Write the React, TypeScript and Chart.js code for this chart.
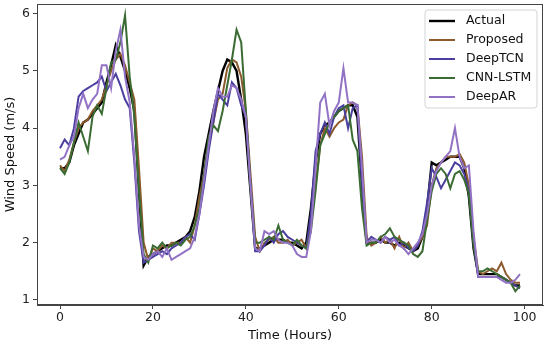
import React, { useEffect, useRef } from "react";
import { Chart, registerables } from "chart.js";

Chart.register(...registerables);

const hours: number[] = Array.from({ length: 100 }, (_, i) => i);

const actual = [
  3.3, 3.3, 3.4, 3.7, 3.9, 4.1, 4.15, 4.25, 4.35, 4.45,
  4.8, 5.1, 5.45, 5.25, 5.0, 4.7, 4.3, 2.9, 1.6, 1.75,
  1.8, 1.85, 1.9, 1.95, 1.95, 2.0, 2.05, 2.1, 2.2, 2.45,
  2.9, 3.5, 3.9, 4.3, 4.65, 5.0, 5.2, 5.15, 5.0, 4.5,
  3.9, 2.9, 1.9, 1.9, 1.95, 2.0, 2.05, 2.05, 2.05, 2.0,
  2.0, 1.95, 1.9, 2.0, 2.6, 3.4, 3.9, 4.05, 4.1, 4.2,
  4.3, 4.35, 4.4, 4.4, 4.2, 3.0, 2.0, 2.0, 2.0, 2.05,
  2.0, 2.0, 1.95, 2.0, 1.95, 1.9, 1.85, 1.9, 2.1, 2.6,
  3.4, 3.35, 3.4, 3.45, 3.5, 3.5, 3.5, 3.3, 2.8, 1.9,
  1.45, 1.45, 1.45, 1.45, 1.45, 1.4, 1.35, 1.3, 1.25, 1.25,
];

const proposed = [
  3.35, 3.25, 3.45, 3.75, 4.0, 4.1, 4.15, 4.3, 4.4, 4.5,
  4.75, 5.0, 5.2, 5.3, 5.1, 4.8, 4.5, 3.3, 2.0, 1.7,
  1.9, 1.85, 1.95, 1.9, 2.0, 2.0, 2.0, 2.1, 2.0, 2.3,
  2.8, 3.2, 3.7, 4.1, 4.5, 4.6, 5.05, 5.2, 5.15, 4.9,
  4.3, 3.2, 2.1, 1.85, 2.0, 2.05, 2.1, 2.0, 2.0, 2.05,
  1.95, 2.0, 2.05, 1.9, 2.3, 3.0, 3.7, 4.0, 3.85, 4.0,
  4.1, 4.15, 4.4, 4.45, 4.4, 3.5, 2.1, 1.95, 2.0, 2.1,
  2.0, 2.05, 1.9, 2.1, 1.9, 2.0, 1.85, 1.95, 2.1, 2.3,
  3.0, 3.3, 3.4, 3.5, 3.5, 3.5, 3.55, 3.4, 3.0, 2.1,
  1.5, 1.45, 1.5, 1.55, 1.5, 1.65, 1.45, 1.35, 1.3, 1.3,
];

const deepTCN = [
  3.65, 3.8, 3.7, 4.0, 4.55, 4.65, 4.7, 4.75, 4.8, 4.9,
  4.65, 4.8, 4.95, 4.75, 4.5, 4.35, 3.4, 2.2, 1.65, 1.7,
  1.75, 1.8, 1.85, 1.8, 1.9, 1.95, 2.0, 2.1, 2.15, 2.05,
  2.5, 3.0, 3.6, 4.1, 4.6, 4.5, 4.4, 4.8, 4.7, 4.4,
  4.2, 3.0, 1.85, 1.85, 1.95, 2.1, 2.0, 2.15, 2.2, 2.1,
  2.05, 2.0, 1.95, 1.9, 2.5, 3.6, 3.9, 4.1, 3.9, 4.2,
  4.35, 4.4, 4.0, 4.35, 4.4, 3.0, 2.0, 2.1, 2.05, 2.0,
  2.1, 2.05, 2.1, 1.95, 2.0, 1.9, 1.85, 1.95, 2.2, 2.7,
  3.3, 3.15, 2.95, 3.1, 3.25, 3.4, 3.35, 3.2, 2.9, 2.0,
  1.4, 1.4, 1.4, 1.4, 1.4, 1.4, 1.35, 1.3, 1.25, 1.2,
];

const cnnLSTM = [
  3.3, 3.2, 3.4, 3.75, 4.1, 3.85, 3.6, 4.2, 4.4, 4.25,
  4.7, 5.15, 5.2, 5.5, 5.97, 4.9, 4.2, 2.9, 1.8, 1.65,
  1.95, 1.9, 2.0, 1.9, 1.95, 2.0, 1.95, 2.05, 2.1, 2.3,
  2.6, 3.2, 3.85, 4.05, 3.95, 4.3, 4.75, 5.2, 5.72, 5.5,
  4.3, 3.0, 2.0, 2.0, 2.05, 2.1, 2.05, 2.3, 2.05, 2.0,
  1.95, 2.05, 1.95, 1.9, 2.2, 2.9, 3.7, 3.9, 4.1, 4.2,
  4.3, 4.35, 4.4, 3.8, 3.6, 2.6, 1.95, 2.0, 2.0, 2.1,
  2.15, 2.25, 2.1, 2.05, 2.0, 1.95, 1.8, 1.75, 1.85, 2.4,
  2.9, 3.2, 3.3, 3.2, 2.95, 3.2, 3.25, 3.1, 2.85, 1.95,
  1.5, 1.5, 1.55, 1.5, 1.45, 1.4, 1.35, 1.3, 1.15, 1.25,
];

const deepAR = [
  3.45, 3.5, 3.7, 3.85, 4.35, 4.6, 4.35, 4.5, 4.6, 5.1,
  5.1, 4.7, 5.35, 5.72, 4.9, 4.45, 3.5, 2.3, 1.75, 1.7,
  1.8, 1.85, 1.75, 1.9, 1.7, 1.75, 1.8, 1.85, 1.9, 2.1,
  2.5, 3.1, 3.7, 4.3, 4.7, 4.55, 4.55, 4.75, 4.7, 4.5,
  4.2, 3.0, 1.9, 1.85, 2.2, 2.15, 2.2, 2.05, 2.0, 2.0,
  1.95, 1.8, 1.75, 1.75, 2.2, 3.3, 4.45, 4.6, 4.05, 4.3,
  4.45, 5.05, 4.45, 4.45, 4.4, 3.3, 2.0, 2.05, 2.05, 2.0,
  2.1, 2.0, 2.05, 1.95, 1.9, 1.8, 1.9, 2.0, 2.15, 2.5,
  3.0, 3.25, 3.4, 3.5, 3.6, 4.0, 3.5, 3.3, 3.35, 2.2,
  1.4, 1.4, 1.4, 1.4, 1.4, 1.35, 1.3, 1.3, 1.35, 1.45,
];

const seriesNames = ["Actual", "Proposed", "DeepTCN", "CNN-LSTM", "DeepAR"];
const seriesColors = ["#000000", "#8c5a2c", "#4a3f9f", "#3a6b32", "#9272c4"];
const seriesWidths = [2.4, 2, 2, 2, 2];
const xTicks = [0, 20, 40, 60, 80, 100];
const yTicks = [1, 2, 3, 4, 5, 6];

const FONT = "'DejaVu Sans', sans-serif";

const framePlugin = {
  id: "frame",
  afterDatasetsDraw(chart: any) {
    const { ctx, chartArea } = chart;
    ctx.save();
    ctx.strokeStyle = "#444";
    ctx.lineWidth = 1;
    ctx.strokeRect(chartArea.left + 0.5, chartArea.top + 0.5, chartArea.right - chartArea.left - 1, chartArea.bottom - chartArea.top - 1);
    ctx.restore();
  },
};

const legendPlugin = {
  id: "customLegend",
  afterDraw(chart: any) {
    const { ctx, chartArea } = chart;
    const w = 112;
    const h = 98;
    const x = chartArea.right - 6 - w;
    const y = chartArea.top + 6;
    ctx.save();
    ctx.fillStyle = "rgba(255,255,255,0.85)";
    ctx.strokeStyle = "#d4d4d4";
    ctx.lineWidth = 1;
    ctx.beginPath();
    const r = 3;
    ctx.moveTo(x + r, y);
    ctx.lineTo(x + w - r, y);
    ctx.arcTo(x + w, y, x + w, y + r, r);
    ctx.lineTo(x + w, y + h - r);
    ctx.arcTo(x + w, y + h, x + w - r, y + h, r);
    ctx.lineTo(x + r, y + h);
    ctx.arcTo(x, y + h, x, y + h - r, r);
    ctx.lineTo(x, y + r);
    ctx.arcTo(x, y, x + r, y, r);
    ctx.closePath();
    ctx.fill();
    ctx.stroke();
    ctx.font = `12.5px ${FONT}`;
    ctx.textBaseline = "middle";
    ctx.textAlign = "left";
    seriesNames.forEach((name, i) => {
      const cy = y + 11 + i * 19;
      ctx.strokeStyle = seriesColors[i];
      ctx.lineWidth = seriesWidths[i];
      ctx.beginPath();
      ctx.moveTo(x + 4, cy);
      ctx.lineTo(x + 30, cy);
      ctx.stroke();
      ctx.fillStyle = "#111";
      ctx.fillText(name, x + 41, cy);
    });
    ctx.restore();
  },
};

export default function App() {
  const ref = useRef<HTMLCanvasElement | null>(null);

  useEffect(() => {
    document.body.style.margin = "0";
    const series = [actual, proposed, deepTCN, cnnLSTM, deepAR];
    const datasets = series.map((vals, i) => ({
      label: seriesNames[i],
      data: vals.map((v, j) => ({ x: hours[j], y: v })),
      borderColor: seriesColors[i],
      backgroundColor: seriesColors[i],
      borderWidth: seriesWidths[i],
      pointRadius: 0,
      tension: 0,
      fill: false,
      order: series.length - i,
    }));
    const chart = new Chart(ref.current!, {
      type: "line",
      data: { datasets },
      plugins: [framePlugin, legendPlugin],
      options: {
        animation: false,
        responsive: false,
        maintainAspectRatio: false,
        layout: { padding: { top: 4, right: 7, left: 0, bottom: 0 } },
        plugins: { legend: { display: false }, tooltip: { enabled: false } },
        scales: {
          x: {
            type: "linear",
            min: -4.95,
            max: 103.95,
            afterBuildTicks: (s: any) => {
              s.ticks = xTicks.map((v) => ({ value: v }));
            },
            afterFit: (s: any) => {
              s.height = 40;
              s.paddingLeft = 0;
              s.paddingRight = 0;
            },
            grid: { drawOnChartArea: false, drawTicks: true, tickLength: 4, color: "#444" },
            border: { display: true, color: "#444" },
            ticks: { color: "#222", font: { family: FONT, size: 12.5 }, padding: 1, maxRotation: 0 },
            title: { display: true, text: "Time (Hours)", color: "#111", font: { family: FONT, size: 13 }, padding: { top: 0, bottom: 2 } },
          },
          y: {
            type: "linear",
            min: 0.91,
            max: 6.17,
            afterBuildTicks: (s: any) => {
              s.ticks = yTicks.map((v) => ({ value: v }));
            },
            afterFit: (s: any) => {
              s.width = 37;
              s.paddingTop = 0;
              s.paddingBottom = 0;
            },
            grid: { drawOnChartArea: false, drawTicks: true, tickLength: 4, color: "#444" },
            border: { display: true, color: "#444" },
            ticks: { color: "#222", font: { family: FONT, size: 12.5 }, padding: 3 },
            title: { display: true, text: "Wind Speed (m/s)", color: "#111", font: { family: FONT, size: 13 }, padding: { top: 3, bottom: 0 } },
          },
        },
      },
    });
    return () => chart.destroy();
  }, []);

  return (
    <div style={{ width: 550, height: 345 }}>
      <canvas ref={ref} width={550} height={345} style={{ display: "block" }} />
    </div>
  );
}
